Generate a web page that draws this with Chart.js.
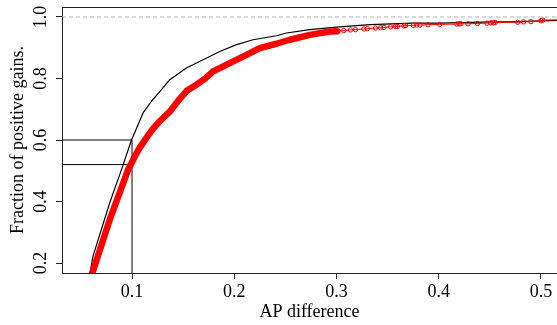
<!DOCTYPE html>
<html>
<head>
<meta charset="utf-8">
<script src="https://cdn.jsdelivr.net/npm/chart.js@4.4.1/dist/chart.umd.min.js"></script>
<style>
  html, body { margin: 0; padding: 0; background: #ffffff; }
  canvas { display: block; }
</style>
</head>
<body>
<canvas id="c" width="557" height="325"></canvas>
<script>
// ---- data ----
const xTicks = [0.1, 0.2, 0.3, 0.4, 0.5];
const yTicks = [0.2, 0.4, 0.6, 0.8, 1.0];
const xTickLabels = ['0.1', '0.2', '0.3', '0.4', '0.5'];
const yTickLabels = ['0.2', '0.4', '0.6', '0.8', '1.0'];

const xTitle = 'AP difference';
const yTitle = 'Fraction of positive gains.';

// black ECDF
const blackX = [0.0585, 0.0618, 0.0781, 0.0896, 0.0994, 0.1108, 0.1190, 0.1288, 0.1369, 0.1532,
                0.1695, 0.1858, 0.2022, 0.2184, 0.2413, 0.2511, 0.2739, 0.3000, 0.3326, 0.3747,
                0.4012, 0.4531, 0.4699, 0.5157, 0.5300];
const blackY = [0.160, 0.2215, 0.395, 0.503, 0.599, 0.688, 0.726, 0.764, 0.796, 0.834,
                0.861, 0.888, 0.910, 0.926, 0.939, 0.948, 0.959, 0.967, 0.975, 0.980,
                0.980, 0.984, 0.984, 0.989, 0.990];

// red ECDF (points)
const redX = [0.0595, 0.0612, 0.0782, 0.0961, 0.0997, 0.1036, 0.1075, 0.1124, 0.1173, 0.1222,
              0.1271, 0.1369, 0.1467, 0.1535, 0.1630, 0.1712, 0.1793, 0.1956, 0.2120, 0.2250,
              0.2413, 0.2543, 0.2740, 0.2935,
              0.3007, 0.3072, 0.3137, 0.3186, 0.3268, 0.3301, 0.3382, 0.3431, 0.3464, 0.3529,
              0.3578, 0.3595, 0.3660, 0.3676,
              0.3752, 0.3784, 0.3817, 0.3895, 0.4010, 0.4176, 0.4199, 0.4216, 0.4287, 0.4379,
              0.4471, 0.4510, 0.4536, 0.4552, 0.4772, 0.4830, 0.4902, 0.5000, 0.5017, 0.5300];
const redY = [0.150, 0.1675, 0.341, 0.503, 0.526, 0.552, 0.575, 0.599, 0.622, 0.643,
              0.661, 0.692, 0.734, 0.760, 0.780, 0.799, 0.823, 0.850, 0.877, 0.899,
              0.913, 0.926, 0.942, 0.953,
              0.954, 0.956, 0.958, 0.959, 0.961, 0.962, 0.964, 0.965, 0.966, 0.968,
              0.969, 0.969, 0.971, 0.972,
              0.973, 0.974, 0.974, 0.975, 0.976, 0.977, 0.978, 0.978, 0.978, 0.979,
              0.980, 0.981, 0.981, 0.982, 0.983, 0.984, 0.985, 0.988, 0.990, 0.991];

// reference segments
const refX = 0.1;
const refYs = [0.6, 0.52];
const hLineY = 1.0;

// axis ranges
const X_MIN = 0.0315, X_MAX = 0.5157;
const Y_MIN = 0.1675, Y_MAX = 1.0325;

// ---- chart ----
const serif = "'Liberation Serif', 'Times New Roman', Times, serif";
Chart.defaults.font.family = serif;
Chart.defaults.color = '#000';

const toPts = (xs, ys) => xs.map((x, i) => ({ x: x, y: ys[i] }));

const frame = {
  id: 'frame',
  afterDatasetsDraw(chart) {
    const { ctx, chartArea: a } = chart;
    ctx.save();
    ctx.strokeStyle = '#222';
    ctx.lineWidth = 1;
    ctx.beginPath();
    const y = Math.round(a.top) + 0.5;
    ctx.moveTo(a.left, y);
    ctx.lineTo(a.right, y);
    ctx.stroke();
    ctx.restore();
  }
};

new Chart(document.getElementById('c'), {
  type: 'line',
  data: {
    datasets: [
      {
        label: 'red',
        data: toPts(redX, redY),
        order: 0,
        borderColor: '#ff0000',
        backgroundColor: 'rgba(0,0,0,0)',
        pointBorderColor: '#ff0000',
        pointBackgroundColor: 'rgba(0,0,0,0)',
        pointBorderWidth: 1,
        pointRadius: ctx => (redX[ctx.dataIndex] >= 0.28 ? 2.2 : 0),
        borderWidth: 1,
        borderJoinStyle: 'round',
        borderCapStyle: 'round',
        segment: {
          borderWidth: ctx => (redX[ctx.p1DataIndex] <= 0.3008 ? 6.5 : 1)
        },
        tension: 0,
        clip: 0
      },
      {
        label: 'black',
        data: toPts(blackX, blackY),
        order: 1,
        borderColor: '#000',
        borderWidth: 1.2,
        borderJoinStyle: 'round',
        pointRadius: 0,
        tension: 0,
        clip: 0
      },
      {
        label: 'refV',
        data: [{ x: refX, y: Y_MIN }, { x: refX, y: refYs[0] }],
        order: 2,
        borderColor: '#000',
        borderWidth: 1,
        pointRadius: 0,
        clip: 0
      },
      {
        label: 'refH1',
        data: [{ x: X_MIN, y: refYs[0] }, { x: refX, y: refYs[0] }],
        order: 2,
        borderColor: '#000',
        borderWidth: 1,
        pointRadius: 0,
        clip: 0
      },
      {
        label: 'refH2',
        data: [{ x: X_MIN, y: refYs[1] }, { x: refX, y: refYs[1] }],
        order: 2,
        borderColor: '#000',
        borderWidth: 1,
        pointRadius: 0,
        clip: 0
      },
      {
        label: 'one',
        data: [{ x: X_MIN, y: hLineY }, { x: X_MAX, y: hLineY }],
        order: 3,
        borderColor: '#b3b3b3',
        borderWidth: 1,
        borderDash: [4, 3],
        pointRadius: 0,
        clip: 0
      }
    ]
  },
  options: {
    responsive: false,
    animation: false,
    events: [],
    layout: { autoPadding: false, padding: { top: 7, left: 0, right: 0, bottom: 0 } },
    plugins: {
      legend: { display: false },
      tooltip: { enabled: false },
      title: { display: false }
    },
    scales: {
      x: {
        type: 'linear',
        position: 'bottom',
        min: X_MIN,
        max: X_MAX,
        afterFit: s => { s.height = 52; s.paddingLeft = 0; s.paddingRight = 0; },
        afterBuildTicks: s => { s.ticks = xTicks.map(v => ({ value: v })); },
        ticks: {
          callback: (v) => xTickLabels[xTicks.indexOf(v)] ?? '',
          font: { size: 18, family: serif },
          color: '#000',
          padding: 2,
          maxRotation: 0,
          minRotation: 0
        },
        grid: {
          drawOnChartArea: false,
          drawTicks: true,
          tickLength: 6,
          tickColor: '#222',
          tickWidth: 1
        },
        border: { display: true, color: '#222', width: 1 },
        title: {
          display: true,
          text: xTitle,
          font: { size: 18, family: serif },
          color: '#000',
          padding: { top: 0, bottom: 2 }
        }
      },
      y: {
        type: 'linear',
        position: 'left',
        min: Y_MIN,
        max: Y_MAX,
        afterFit: s => { s.width = 62; s.paddingTop = 0; s.paddingBottom = 0; },
        afterBuildTicks: s => { s.ticks = yTicks.map(v => ({ value: v })); },
        ticks: {
          callback: (v) => yTickLabels[yTicks.findIndex(t => Math.abs(t - v) < 1e-9)] ?? '',
          font: { size: 18, family: serif },
          color: '#000',
          padding: 3,
          crossAlign: 'center',
          minRotation: 90,
          maxRotation: 90
        },
        grid: {
          drawOnChartArea: false,
          drawTicks: true,
          tickLength: 6,
          tickColor: '#222',
          tickWidth: 1
        },
        border: { display: true, color: '#222', width: 1 },
        title: {
          display: true,
          text: yTitle,
          font: { size: 18, family: serif },
          color: '#000',
          padding: { top: 7, bottom: 0 }
        }
      }
    }
  },
  plugins: [frame]
});
</script>
</body>
</html>
